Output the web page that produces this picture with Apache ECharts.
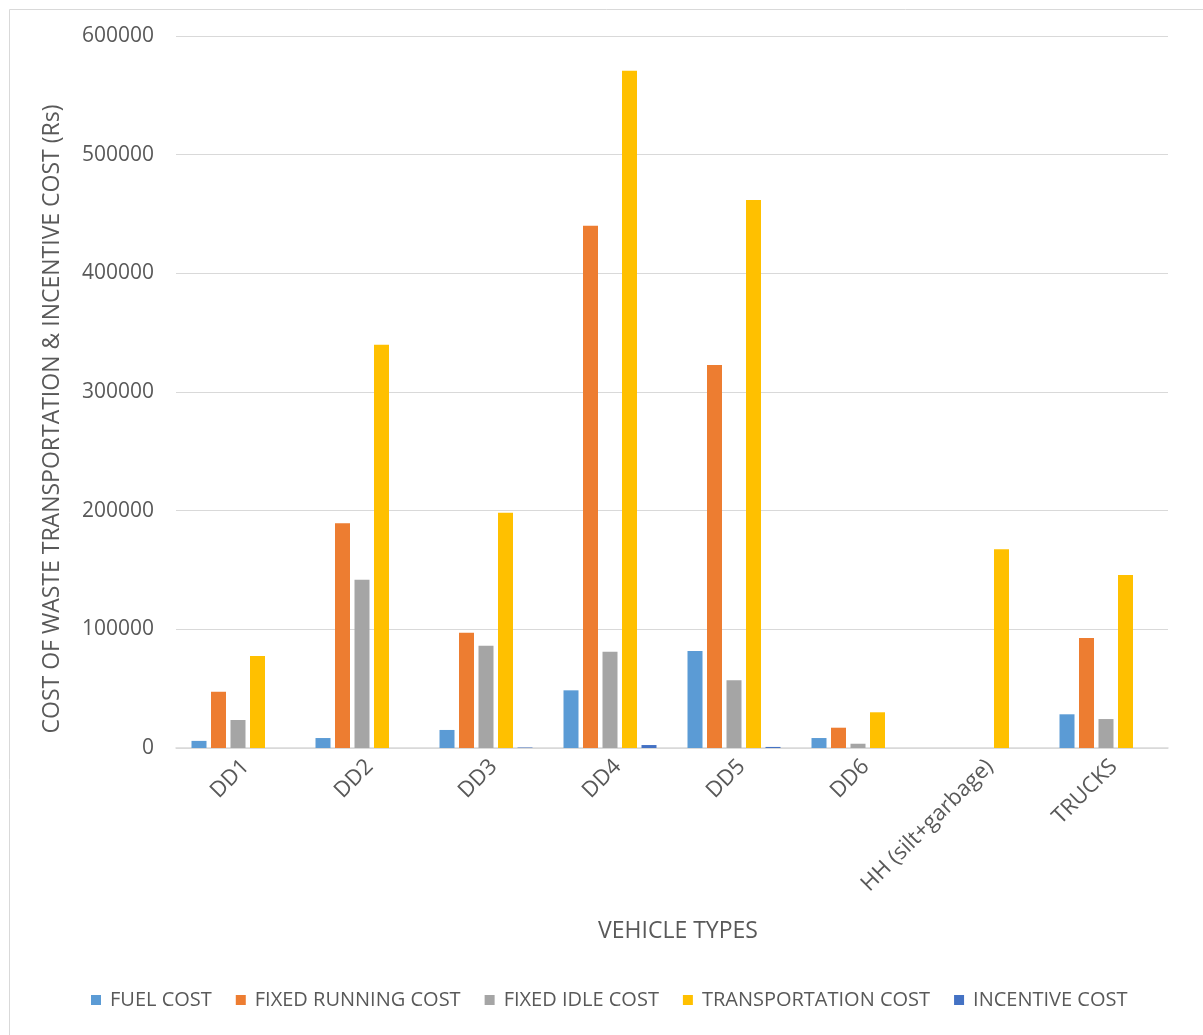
<!DOCTYPE html>
<html>
<head>
<meta charset="utf-8">
<script src="https://cdn.jsdelivr.net/npm/echarts@6/dist/echarts.min.js"></script>
<style>
  html, body { margin: 0; padding: 0; background: #ffffff; }
  #chart { width: 1203px; height: 1035px; }
</style>
</head>
<body>
<div id="chart"></div>
<script>
// Vehicle categories on the x axis
const vehicleTypes = ['DD1', 'DD2', 'DD3', 'DD4', 'DD5', 'DD6', 'HH (silt+garbage)', 'TRUCKS'];

// Cost values in Rs, one entry per vehicle type
const fuelCost           = [6000, 8400, 15200, 48600, 81700, 8400, 0, 28400];
const fixedRunningCost   = [47400, 189400, 97200, 440200, 322700, 17100, 0, 92700];
const fixedIdleCost      = [23600, 141800, 86200, 81200, 57000, 3600, 0, 24400];
const transportationCost = [77500, 339900, 198300, 570800, 461800, 30100, 167400, 145800];
const incentiveCost      = [0, 0, 400, 2500, 900, 0, 0, 0];

// Y axis range
const yMin = 0;
const yMax = 600000;
const yStep = 100000;

const seriesNames = ['FUEL COST', 'FIXED RUNNING COST', 'FIXED IDLE COST', 'TRANSPORTATION COST', 'INCENTIVE COST'];
const seriesData = [fuelCost, fixedRunningCost, fixedIdleCost, transportationCost, incentiveCost];
const seriesColors = ['#5B9BD5', '#ED7D31', '#A5A5A5', '#FFC000', '#4472C4'];

const textColor = '#595959';
const fontFamily = '"Open Sans", "Liberation Sans", sans-serif';
const yAxisTitle = 'COST OF WASTE TRANSPORTATION & INCENTIVE COST (Rs)';

const chart = echarts.init(document.getElementById('chart'), null, { renderer: 'canvas' });

chart.setOption({
  backgroundColor: '#ffffff',
  animation: false,
  textStyle: { fontFamily: fontFamily, color: textColor },
  graphic: [{
    type: 'rect',
    left: 7, top: 7,
    shape: { width: 1200, height: 1040 },
    style: { fill: 'none', stroke: '#D9D9D9', lineWidth: 1 },
    silent: true
  }, {
    // vertical axis title, rotated to read bottom-up
    type: 'text',
    x: 52, y: 419,
    rotation: Math.PI / 2,
    style: {
      text: yAxisTitle,
      fill: textColor,
      font: '23px ' + fontFamily,
      align: 'center',
      verticalAlign: 'middle'
    },
    silent: true
  }],
  grid: { left: 176, right: 35, top: 36, bottom: 287, containLabel: false },
  legend: {
    bottom: 20,
    left: 86,
    itemWidth: 10,
    itemHeight: 10,
    itemGap: 24,
    icon: 'rect',
    textStyle: { color: textColor, fontSize: 20, fontFamily: fontFamily, padding: [0, 0, 0, 4] },
    data: seriesNames
  },
  xAxis: {
    type: 'category',
    data: vehicleTypes,
    name: 'VEHICLE TYPES',
    nameLocation: 'middle',
    nameGap: 172,
    nameTextStyle: { color: textColor, fontSize: 23, fontFamily: fontFamily, padding: [0, 0, 0, 12] },
    axisLine: { lineStyle: { color: '#D9D9D9', width: 1.5 } },
    axisTick: { show: false },
    axisLabel: {
      rotate: 45, color: textColor, fontSize: 22, margin: 23, interval: 0, fontFamily: fontFamily,
      padding: [11, -11, 0, 0]
    }
  },
  yAxis: {
    type: 'value',
    min: yMin,
    max: yMax,
    interval: yStep,
    axisLine: { show: false },
    axisTick: { show: false },
    axisLabel: {
      color: textColor, fontSize: 21, margin: 22, fontFamily: fontFamily,
      formatter: (v) => String(v)
    },
    splitLine: { lineStyle: { color: '#D9D9D9', width: 1 } }
  },
  series: seriesNames.map((name, i) => ({
    name: name,
    type: 'bar',
    data: seriesData[i],
    barWidth: 15,
    barGap: '30%',
    itemStyle: { color: seriesColors[i] }
  }))
});
</script>
</body>
</html>
